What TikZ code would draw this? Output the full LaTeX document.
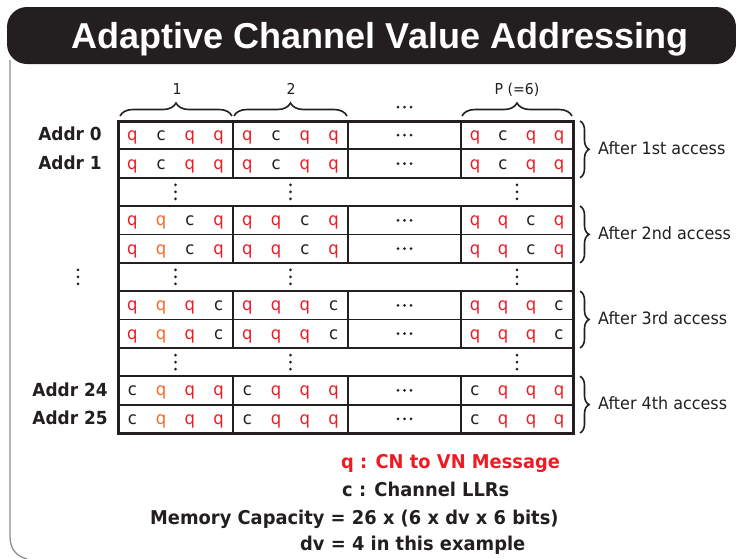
\documentclass[tikz,border=0pt]{standalone}
\usepackage{fontspec}
\setmainfont{DejaVu Sans}[FakeStretch=0.94]
\newfontfamily\titlefont{Liberation Sans}
\usetikzlibrary{decorations.pathreplacing}

\definecolor{ink}{HTML}{231F20}
\definecolor{qred}{HTML}{ED1C24}
\definecolor{qorange}{HTML}{F26B2A}
\definecolor{framegray}{HTML}{8C8C8C}

\tikzset{
  gridline/.style={line width=1.8pt, draw=ink},
  border/.style={line width=3pt, draw=ink},
  letter/.style={anchor=base, inner sep=0pt, font=\fontsize{17.5}{19}\selectfont},
  addr/.style={anchor=base, inner sep=0pt, text=ink, font=\fontsize{18}{20}\selectfont\bfseries},
  legend/.style={anchor=base west, inner sep=0pt, font=\fontsize{19}{22}\selectfont\bfseries},
  note/.style={anchor=base west, inner sep=0pt, text=ink, font=\fontsize{17}{20}\selectfont},
  toplabel/.style={anchor=base, inner sep=0pt, text=ink, font=\fontsize{15}{18}\selectfont},
  sidebrace/.style={draw=ink, line width=1.6pt, decorate, decoration={brace, amplitude=9pt}},
  topbrace/.style={draw=ink, line width=1.6pt, decorate, decoration={brace, amplitude=13pt}},
  titletext/.style={anchor=base, inner sep=0pt, text=white, font=\titlefont\bfseries\fontsize{36}{40}\selectfont},
}

% row boundaries of the memory table
\newcommand\rowy[1]{121+(#1)*28.36}

\begin{document}
\begin{tikzpicture}[x=1pt,y=-1pt]
\useasboundingbox (0,0) rectangle (736,558);

% slide frame and title bar
\draw[framegray, line width=1.3pt] (10,60) -- (10,536) .. controls (10,549) and (16,556) .. (27,559);
\fill[ink, rounded corners=20pt] (7,7) rectangle (736,64);
\node[titletext] (title) at (380,48) {Adaptive Channel Value Addressing};

% horizontal row lines
\foreach \i in {1,...,10} {
  \pgfmathsetmacro\yy{\rowy{\i}}
  \draw[gridline] (118,\yy) -- (573,\yy);
}

% memory words: letters, block dividers and the elided middle blocks
\foreach \r/\g in {0/1,1/1,3/2,4/2,6/3,7/3,9/4,10/4} {
  \pgfmathsetmacro\ytop{\rowy{\r}}
  \pgfmathsetmacro\ybot{\rowy{\r+1}}
  \pgfmathsetmacro\yc{(\ytop+\ybot)/2}
  \foreach \xd in {233,348,461} {
    \draw[gridline] (\xd,\ytop) -- (\xd,\ybot);
  }
  \pgfmathtruncatemacro\cidx{mod(\g,4)}
  \foreach \bx/\bw/\bn in {118/115/1,233/115/2,461/112/3} {
    \foreach \k in {0,...,3} {
      \pgfmathsetmacro\xc{\bx+\bw*(2*\k+1)/8}
      \ifnum\k=\cidx
        \def\lt{c}\def\lc{ink}%
      \else
        \def\lt{q}\def\lc{qred}%
        \ifnum\bn=1 \ifnum\k=1 \ifnum\g>1 \def\lc{qorange}\fi\fi\fi
      \fi
      \node[letter, text=\lc] (w-\r-\bn-\k) at (\xc,\yc+5.5) {\lt};
    }
  }
  \foreach \dx in {-6.5,0,6.5} {
    \fill[ink] (404.5+\dx,\yc) circle (1.5pt);
  }
}

% skipped addresses
\foreach \r in {2,5,8} {
  \pgfmathsetmacro\yc{\rowy{\r+0.5}}
  \foreach \xc in {175.5,290.5,517} {
    \foreach \dy in {-7,0,7} {
      \fill[ink] (\xc,\yc+\dy) circle (1.5pt);
    }
  }
}

% outer border
\draw[border] (118,121) rectangle (573,433);

% address labels
\node[addr] (a0)  at (70,140.7) {Addr 0};
\node[addr] (a1)  at (70,169.1) {Addr 1};
\node[addr] (a24) at (70,396.1) {Addr 24};
\node[addr] (a25) at (70,424.5) {Addr 25};
\pgfmathsetmacro\ymid{\rowy{5.5}}
\foreach \dy in {-7,0,7} {
  \fill[ink] (78,\ymid+\dy) circle (1.5pt);
}

% processing-unit braces on top
\draw[topbrace] (120,116) -- (232,116);
\draw[topbrace] (234,116) -- (347,116);
\draw[topbrace] (462,116) -- (572,116);
\node[toplabel] (p1) at (177,94) {1};
\node[toplabel] (p2) at (291,94) {2};
\node[toplabel] (pP) at (517,94) {P (=6)};
\foreach \dx in {-6.5,0,6.5} {
  \fill[ink] (404.5+\dx,107) circle (1.5pt);
}

% access braces on the right
\foreach \r/\txt in {0/After 1st access,3/After 2nd access,6/After 3rd access,9/After 4th access} {
  \pgfmathsetmacro\ytop{\rowy{\r}}
  \pgfmathsetmacro\ybot{\rowy{\r+2}}
  \pgfmathsetmacro\yc{(\ytop+\ybot)/2}
  \draw[sidebrace] (580,\ytop) -- (580,\ybot);
  \node[note] (acc-\r) at (598,\yc+5) {\txt};
}

% legend
\node[legend, text=qred] (lq) at (341,468) {q : CN to VN Message};
\node[legend, text=ink] (lc) at (342,496) {c : Channel LLRs};
\node[legend, text=ink] (lm) at (150,524) {Memory Capacity = 26 x (6 x dv x 6 bits)};
\node[legend, text=ink] (ld) at (300,550) {dv = 4 in this example};
\end{tikzpicture}
\end{document}
